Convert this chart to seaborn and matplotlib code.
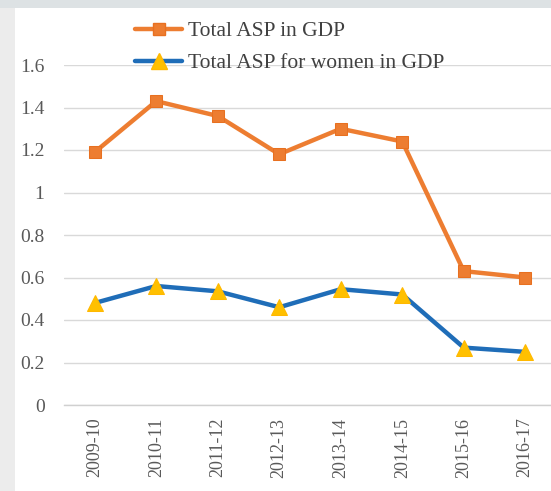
import matplotlib
matplotlib.use("Agg")
import matplotlib.pyplot as plt
import seaborn as sns
import pandas as pd
from matplotlib.patches import Rectangle

years = ["2009-10", "2010-11", "2011-12", "2012-13", "2013-14", "2014-15", "2015-16", "2016-17"]
total_asp = [1.19, 1.43, 1.36, 1.18, 1.30, 1.24, 0.63, 0.60]
women_asp = [0.48, 0.56, 0.535, 0.46, 0.545, 0.52, 0.27, 0.25]
series_names = ["Total ASP in GDP", "Total ASP for women in GDP"]
yticks = [0, 0.2, 0.4, 0.6, 0.8, 1.0, 1.2, 1.4, 1.6]
ytick_labels = ["0", "0.2", "0.4", "0.6", "0.8", "1", "1.2", "1.4", "1.6"]

df = pd.DataFrame({
    "year": years * 2,
    "value": total_asp + women_asp,
    "series": [series_names[0]] * len(years) + [series_names[1]] * len(years),
})

sns.set_theme(style="white")
plt.rcParams["font.family"] = ["Liberation Serif", "DejaVu Serif"]

W, H = 551, 491
fig = plt.figure(figsize=(W / 100, H / 100), dpi=100)
fig.patch.set_facecolor("white")

# slide frame pieces around the chart
fig.patches.append(Rectangle((0, 1 - 8 / H), 1, 8 / H, transform=fig.transFigure,
                             facecolor="#dde2e4", edgecolor="none", zorder=0))
fig.patches.append(Rectangle((0, 0), 15 / W, 1 - 8 / H, transform=fig.transFigure,
                             facecolor="#ececec", edgecolor="none", zorder=0))

left, right = 64, 556
top, bottom = 65, 405
ax = fig.add_axes([left / W, 1 - bottom / H, (right - left) / W, (bottom - top) / H])
ax.set_facecolor("none")

palette = {series_names[0]: "#ED7D31", series_names[1]: "#1F6DB8"}
sns.lineplot(data=df, x="year", y="value", hue="series", palette=palette,
             sort=False, linewidth=3.2, legend=False, ax=ax, zorder=3)

lines = ax.get_lines()
lines[0].set_marker("s")
lines[0].set_markersize(9)
lines[0].set_markerfacecolor("#ED7D31")
lines[0].set_markeredgecolor("#E87020")
lines[1].set_marker("^")
lines[1].set_markersize(11)
lines[1].set_markerfacecolor("#FFC000")
lines[1].set_markeredgecolor("#FFB800")

ax.set_xlim(-0.5, len(years) - 0.5)
ax.set_ylim(0, 1.6)
ax.set_yticks(yticks)
ax.set_yticklabels(ytick_labels)
ax.set_xticks(range(len(years)))
ax.set_xticklabels(years, rotation=90)
ax.grid(axis="y", color="#d9d9d9", linewidth=1)
ax.set_axisbelow(True)
for s in ["top", "right", "left"]:
    ax.spines[s].set_visible(False)
ax.spines["bottom"].set_color("#d0d0d0")
ax.spines["bottom"].set_linewidth(1)
ax.tick_params(axis="y", length=0, labelsize=14, labelcolor="#595959", pad=14)
ax.tick_params(axis="x", length=0, labelsize=13, labelcolor="#595959", pad=9)
ax.set_xlabel("")
ax.set_ylabel("")

handles = [
    plt.Line2D([], [], color="#ED7D31", linewidth=3.2, marker="s", markersize=9,
               markerfacecolor="#ED7D31", markeredgecolor="#E87020"),
    plt.Line2D([], [], color="#1F6DB8", linewidth=3.2, marker="^", markersize=11,
               markerfacecolor="#FFC000", markeredgecolor="#FFB800"),
]
fig.legend(handles, series_names, loc="upper left",
           bbox_to_anchor=(120 / W, 1 - 6 / H), frameon=False,
           fontsize=15.5, labelcolor="#404040", handlelength=2.2,
           handletextpad=0.25, labelspacing=0.55, borderpad=0.2)

fig.savefig("out.png", dpi=100)
